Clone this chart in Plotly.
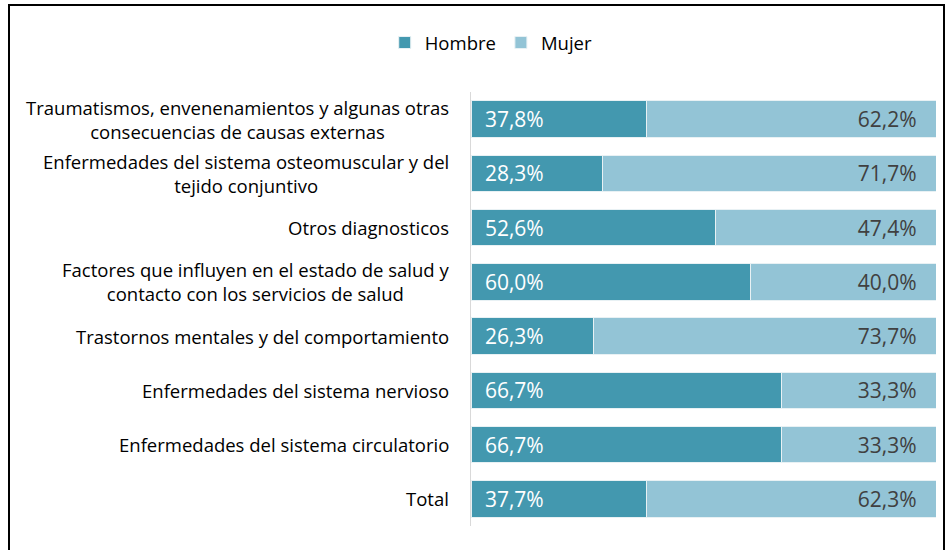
import plotly.graph_objects as go

categories = [
    "Traumatismos, envenenamientos y algunas otras<br>consecuencias de causas externas",
    "Enfermedades del sistema osteomuscular y del<br>tejido conjuntivo",
    "Otros diagnosticos",
    "Factores que influyen en el estado de salud y<br>contacto con los servicios de salud",
    "Trastornos mentales y del comportamiento",
    "Enfermedades del sistema nervioso",
    "Enfermedades del sistema circulatorio",
    "Total",
]
hombre = [37.8, 28.3, 52.6, 60.0, 26.3, 66.7, 66.7, 37.7]
mujer = [62.2, 71.7, 47.4, 40.0, 73.7, 33.3, 33.3, 62.3]

FONT = "Open Sans"
C_H = "#4398AF"
C_M = "#93C4D6"
NB = "\u00a0"

def fmt(v):
    return f"{v:.1f}%".replace(".", ",")

fig = go.Figure()
fig.add_trace(go.Bar(
    y=categories, x=hombre, orientation="h", name="Hombre",
    marker=dict(color=C_H, line=dict(color="#E8F1F4", width=1)),
    text=[NB * 2 + fmt(v) for v in hombre], textposition="inside", insidetextanchor="start",
    textfont=dict(color="white", size=21, family=FONT),
))
fig.add_trace(go.Bar(
    y=categories, x=mujer, orientation="h", name="Mujer",
    marker=dict(color=C_M, line=dict(color="#E8F1F4", width=1)),
    text=[fmt(v) + NB * 3 for v in mujer], textposition="inside", insidetextanchor="end",
    textfont=dict(color="#404040", size=21, family=FONT),
))

for c in categories:
    fig.add_annotation(
        x=(451 - 471) / 465, xref="paper", y=c, yref="y",
        text=c, showarrow=False, xanchor="right", align="center",
        font=dict(size=18.5, family=FONT, color="#000000"),
    )

fig.update_layout(
    width=952, height=550,
    barmode="stack", bargap=0.33,
    plot_bgcolor="white", paper_bgcolor="white",
    margin=dict(l=471, r=16, t=92, b=24, autoexpand=False),
    font=dict(family=FONT, color="#000000"),
    showlegend=True,
    legend=dict(orientation="h", x=0.516, xanchor="center", y=1 - 43 / 550, yanchor="middle",
                xref="container", yref="container",
                font=dict(size=18.5, family=FONT), traceorder="normal",
                itemwidth=30, bgcolor="rgba(0,0,0,0)"),
    xaxis=dict(range=[0, 100], showticklabels=False, showgrid=False, zeroline=False,
               fixedrange=True),
    yaxis=dict(autorange="reversed", showticklabels=False, showgrid=False,
               showline=True, linecolor="#D9D9D9", linewidth=1, ticks=""),
    shapes=[dict(type="rect", xref="paper", yref="paper",
                 x0=(9 - 471) / 465, x1=(944 - 471) / 465,
                 y0=-0.2, y1=(526 - 5) / 434,
                 line=dict(color="#000000", width=2), fillcolor="rgba(0,0,0,0)")],
)

fig.write_html("out.html", config={"displayModeBar": False},
               post_script="document.body.style.margin='0';")
